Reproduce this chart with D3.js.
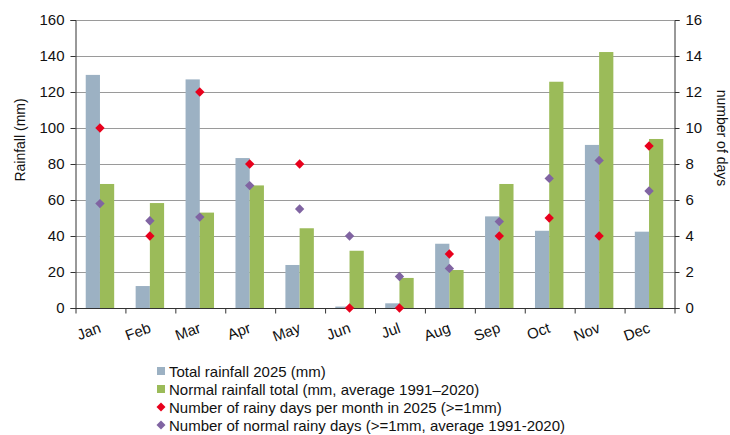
<!DOCTYPE html>
<html><head><meta charset="utf-8">
<script src="https://cdn.jsdelivr.net/npm/d3@7"></script>
<style>body{margin:0;background:#fff}svg{display:block;font-family:"Liberation Sans",Arial,sans-serif}</style>
</head><body><svg id="c" width="730" height="435"></svg>
<script>
const months = ["Jan","Feb","Mar","Apr","May","Jun","Jul","Aug","Sep","Oct","Nov","Dec"];
const rain2025 = [129.5,12.2,127,83.3,23.9,0.8,2.6,35.7,50.9,42.9,90.6,42.4];
const rainNormal = [68.9,58.3,53,68.1,44.3,31.8,16.7,21.1,68.9,125.7,142.2,93.9];
const days2025 = [10,4,12,8,8,0,0,3,4,5,4,9];
const daysNormal = [5.8,4.85,5.05,6.8,5.5,4.0,1.75,2.2,4.8,7.2,8.2,6.5];
const leftTicks = [0,20,40,60,80,100,120,140,160];
const rightTicks = [0,2,4,6,8,10,12,14,16];
const legendLabels = ["Total rainfall 2025 (mm)","Normal rainfall total (mm, average 1991\u20132020)","Number of rainy days per month in 2025 (>=1mm)","Number of normal rainy days (>=1mm, average 1991-2020)"];
const colors = {blue:"#9CB1C3", green:"#9BBB59", red:"#E8001C", purple:"#8064A2"};

const svg = d3.select("#c");
const L=75, R=674, T=20, B=308;
const x = d3.scaleBand().domain(months).range([L,R]).paddingInner(0.43).paddingOuter(0.215);
const xs = d3.scaleBand().domain(["a","b"]).range([0,x.bandwidth()]);
const yL = d3.scaleLinear().domain([0,160]).range([B,T]);
const yR = d3.scaleLinear().domain([0,16]).range([B,T]);
const step = (R-L)/12;
const centers = months.map((m,i)=>L+step*(i+0.5));

// grid
svg.append("g").selectAll("line").data(leftTicks.slice(1)).join("line")
  .attr("x1",L).attr("x2",R).attr("y1",d=>Math.round(yL(d))+0.5).attr("y2",d=>Math.round(yL(d))+0.5)
  .attr("stroke","#9a9a9a").attr("stroke-width",1);

// bars
const g = svg.append("g");
g.selectAll(".b1").data(rain2025).join("rect")
  .attr("x",(d,i)=>centers[i]-x.bandwidth()/2).attr("width",xs.bandwidth())
  .attr("y",d=>yL(d)).attr("height",d=>B-yL(d)).attr("fill",colors.blue);
g.selectAll(".b2").data(rainNormal).join("rect")
  .attr("x",(d,i)=>centers[i]-x.bandwidth()/2+xs("b")).attr("width",xs.bandwidth())
  .attr("y",d=>yL(d)).attr("height",d=>B-yL(d)).attr("fill",colors.green);

// axes
const axL = svg.append("g").attr("transform",`translate(${L+0.5},0)`)
  .call(d3.axisLeft(yL).tickValues(leftTicks).tickSize(5).tickPadding(6));
const axR = svg.append("g").attr("transform",`translate(${R+0.5},0)`)
  .call(d3.axisRight(yR).tickValues(rightTicks).tickSize(5).tickPadding(6));
const axB = svg.append("g").attr("transform",`translate(0,${B+0.5})`)
  .call(d3.axisBottom(d3.scaleLinear().domain([0,12]).range([L+0.5,R+0.5])).tickValues(d3.range(13)).tickSize(5).tickFormat(""));
[axL,axR,axB].forEach(a=>{
  a.selectAll(".domain").attr("stroke","#333");
  a.selectAll(".tick line").attr("stroke","#333");
  a.selectAll("text").attr("font-size",15).attr("fill","#111").attr("font-family","Liberation Sans, Arial, sans-serif");
});
axB.select(".domain").attr("d",`M${L},0H${R+1}`);

// month labels
svg.append("g").selectAll("text").data(months).join("text")
  .attr("transform",(d,i)=>`translate(${centers[i]+2},${B+24}) rotate(-20)`)
  .attr("text-anchor","end").attr("font-size",15).attr("fill","#111").text(d=>d);

// diamonds
const dia = d3.symbol().type(d3.symbolSquare).size(44);
svg.append("g").selectAll("path").data(daysNormal).join("path")
  .attr("d",dia).attr("transform",(d,i)=>`translate(${centers[i]},${yR(d)}) rotate(45)`).attr("fill",colors.purple);
svg.append("g").selectAll("path").data(days2025).join("path")
  .attr("d",dia).attr("transform",(d,i)=>`translate(${centers[i]},${yR(d)}) rotate(45)`).attr("fill",colors.red);

// axis titles
svg.append("text").attr("transform",`translate(25,${(T+B)/2-24}) rotate(-90)`).attr("text-anchor","middle")
  .attr("font-size",14).attr("fill","#111").text("Rainfall (mm)");
svg.append("text").attr("transform",`translate(717,${(T+B)/2-26}) rotate(90)`).attr("text-anchor","middle")
  .attr("font-size",14).attr("fill","#111").text("number of days");

// legend
const lg = svg.append("g").attr("transform","translate(157,371)");
const items = lg.selectAll("g").data(legendLabels).join("g").attr("transform",(d,i)=>`translate(0,${i*18})`);
items.each(function(d,i){
  const s=d3.select(this);
  if(i<2) s.append("rect").attr("x",0).attr("y",-4).attr("width",8).attr("height",8).attr("fill",i==0?colors.blue:colors.green);
  else s.append("path").attr("d",d3.symbol().type(d3.symbolSquare).size(40)).attr("transform","translate(4,0) rotate(45)").attr("fill",i==2?colors.red:colors.purple);
  s.append("text").attr("x",12).attr("y",5.5).attr("font-size",15).attr("fill","#111").text(d);
});
</script></body></html>
